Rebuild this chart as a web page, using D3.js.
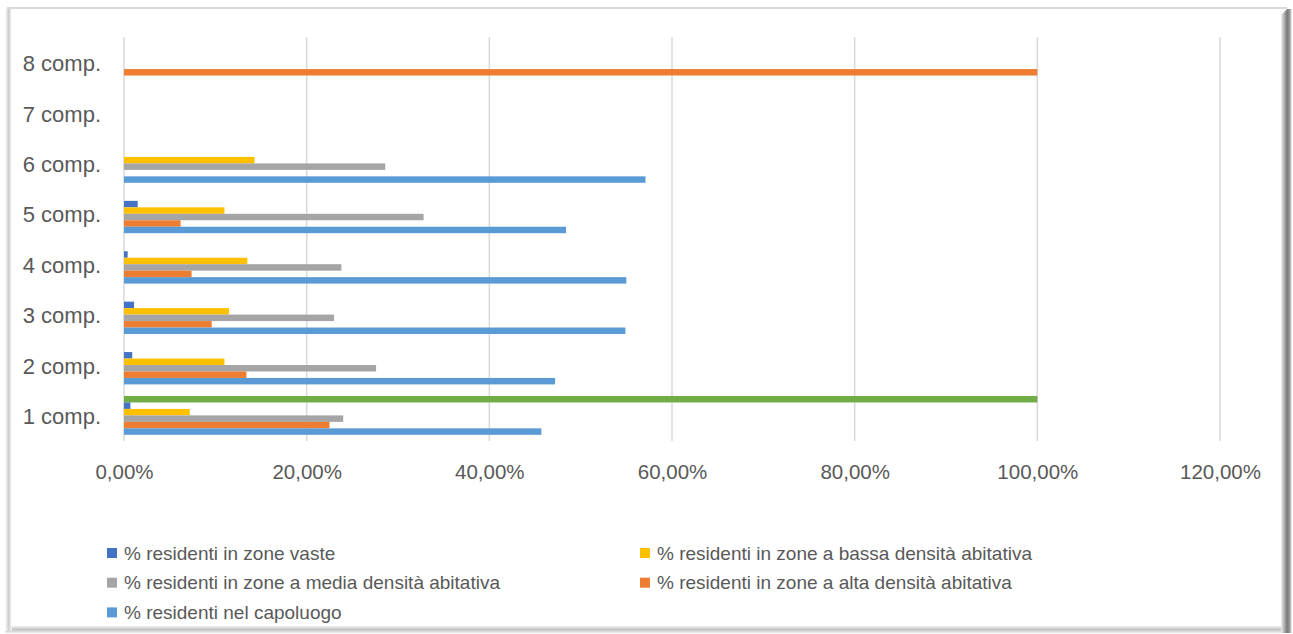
<!DOCTYPE html>
<html>
<head>
<meta charset="utf-8">
<script src="https://cdn.jsdelivr.net/npm/d3@7"></script>
<style>
  html, body { margin: 0; padding: 0; background: #ffffff; }
  svg { display: block; }
  text { font-family: "Liberation Sans", Arial, sans-serif; fill: #595959; }
</style>
</head>
<body>
<svg id="chart" width="1293" height="634"></svg>
<script>
// Household size categories (bottom to top on the chart)
const categories = ["1 comp.", "2 comp.", "3 comp.", "4 comp.", "5 comp.", "6 comp.", "7 comp.", "8 comp."];

// Share of residents (%) per household size
const vaste      = [0.7, 0.9, 1.1, 0.4, 1.5, 0, 0, 0];
const bassa      = [7.2, 11.0, 11.5, 13.5, 11.0, 14.3, 0, 0];
const media      = [24.0, 27.6, 23.0, 23.8, 32.8, 28.6, 0, 0];
const alta       = [22.5, 13.4, 9.6, 7.4, 6.2, 0, 0, 100];
const capoluogo  = [45.7, 47.2, 54.9, 55.0, 48.4, 57.1, 0, 0];
const totale     = [100, 0, 0, 0, 0, 0, 0, 0];

const tickValues = [0, 20, 40, 60, 80, 100, 120];

// Series listed top-to-bottom inside each category group
const series = [
  { key: "totale",    label: null, values: totale,    color: "#70AD47" },
  { key: "vaste",     label: "% residenti in zone vaste", values: vaste, color: "#4472C4" },
  { key: "bassa",     label: "% residenti in zone a bassa densità abitativa", values: bassa, color: "#FFC000" },
  { key: "media",     label: "% residenti in zone a media densità abitativa", values: media, color: "#A5A5A5" },
  { key: "alta",      label: "% residenti in zone a alta densità abitativa", values: alta, color: "#ED7D31" },
  { key: "capoluogo", label: "% residenti nel capoluogo", values: capoluogo, color: "#5B9BD5" }
];

// Legend order (two columns, row by row)
const legendOrder = ["vaste", "bassa", "media", "alta", "capoluogo"];

const svg = d3.select("#chart");
const W = 1293, H = 634;

// ---- frame with soft shadow ----
const defs = svg.append("defs");
const gl = defs.append("linearGradient").attr("id", "shL").attr("x1", 0).attr("x2", 1);
gl.append("stop").attr("offset", 0).attr("stop-color", "#ffffff");
gl.append("stop").attr("offset", 0.5).attr("stop-color", "#cfcfcf");
gl.append("stop").attr("offset", 1).attr("stop-color", "#f4f4f4");
const gr = defs.append("linearGradient").attr("id", "shR").attr("x1", 0).attr("x2", 1);
gr.append("stop").attr("offset", 0).attr("stop-color", "#f0f0f0");
gr.append("stop").attr("offset", 0.55).attr("stop-color", "#7a7a7a");
gr.append("stop").attr("offset", 0.8).attr("stop-color", "#9a9a9a");
gr.append("stop").attr("offset", 1).attr("stop-color", "#ffffff");
const gb = defs.append("linearGradient").attr("id", "shB").attr("x1", 0).attr("x2", 0).attr("y1", 0).attr("y2", 1);
gb.append("stop").attr("offset", 0).attr("stop-color", "#f0f0f0");
gb.append("stop").attr("offset", 0.5).attr("stop-color", "#c4c4c4");
gb.append("stop").attr("offset", 1).attr("stop-color", "#ececec");

svg.append("rect").attr("x", 0).attr("y", 0).attr("width", W).attr("height", H).attr("fill", "#ffffff");
svg.append("rect").attr("x", 5).attr("y", 626).attr("width", 1280).attr("height", 7).attr("fill", "url(#shB)");
svg.append("rect").attr("x", 5).attr("y", 9).attr("width", 7).attr("height", 622).attr("fill", "url(#shL)");
svg.append("path").attr("d", "M1281,15 L1287,9 L1292,9 L1292,633 L1281,633 Z").attr("fill", "url(#shR)");
svg.append("line").attr("x1", 7).attr("x2", 1287).attr("y1", 8).attr("y2", 8)
  .attr("stroke", "#d9d9d9").attr("stroke-width", 2);
svg.append("rect").attr("x", 11).attr("y", 9).attr("width", 1270).attr("height", 617).attr("fill", "#ffffff");

// ---- scales ----
const x = d3.scaleLinear().domain([0, 120]).range([124, 1220]);
const y = d3.scaleBand().domain(categories.slice().reverse())
  .range([37.4, 440.6]).paddingInner(0.23).paddingOuter(0.115);
const ySub = d3.scaleBand().domain(series.map(s => s.key)).range([0, y.bandwidth()]);

const itLocale = d3.formatLocale({ decimal: ",", thousands: ".", grouping: [3], currency: ["", " €"] });
const pct = itLocale.format(".2%");

// ---- gridlines ----
svg.append("g").selectAll("line").data(tickValues).join("line")
  .attr("x1", d => x(d)).attr("x2", d => x(d))
  .attr("y1", 37).attr("y2", 441)
  .attr("stroke", "#d9d9d9").attr("stroke-width", 1.5);

// ---- bars ----
const groups = svg.append("g").selectAll("g").data(categories).join("g")
  .attr("transform", d => `translate(0,${y(d)})`);
groups.selectAll("rect")
  .data((c, i) => series.map(s => ({ key: s.key, color: s.color, v: s.values[i] })).filter(d => d.v > 0))
  .join("rect")
  .attr("x", x(0))
  .attr("y", d => ySub(d.key))
  .attr("width", d => x(d.v) - x(0))
  .attr("height", ySub.bandwidth())
  .attr("fill", d => d.color);

// ---- axes ----
const xAxis = d3.axisBottom(x).tickValues(tickValues).tickSize(0).tickPadding(0)
  .tickFormat(d => pct(d / 100));
const gx = svg.append("g").attr("transform", "translate(0,472)").call(xAxis);
gx.select(".domain").remove();
gx.selectAll("text").attr("dy", "0.35em").attr("y", 0)
  .style("font-size", "20.5px").style("fill", "#595959");

const yAxis = d3.axisLeft(y).tickSize(0).tickPadding(0);
const gy = svg.append("g").attr("transform", "translate(101,1.5)").call(yAxis);
gy.select(".domain").remove();
gy.selectAll("text").style("font-size", "22px").style("fill", "#595959");

// ---- legend ----
const legendItems = legendOrder.map(k => series.find(s => s.key === k));
const colX = [107, 640];
const rowY = [553, 582.7, 612.4];
const lg = svg.append("g").selectAll("g").data(legendItems).join("g")
  .attr("transform", (d, i) => `translate(${colX[i % 2]},${rowY[Math.floor(i / 2)]})`);
lg.append("rect").attr("x", 0).attr("y", -5).attr("width", 10).attr("height", 10).attr("fill", d => d.color);
lg.append("text").attr("x", 17).attr("dy", "0.35em").style("font-size", "19px").text(d => d.label);
</script>
</body>
</html>
